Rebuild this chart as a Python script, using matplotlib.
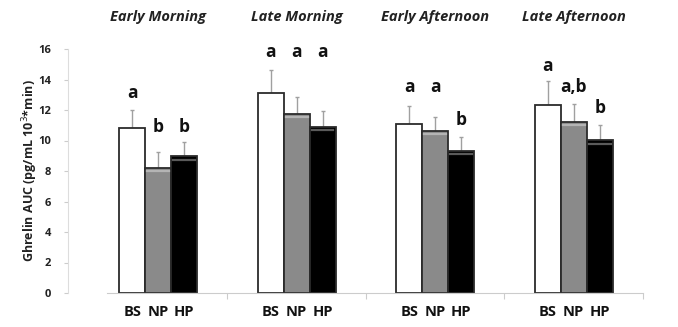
import numpy as np
import matplotlib.pyplot as plt

plt.rcParams['font.family'] = ['Open Sans', 'DejaVu Sans']

# Ghrelin AUC per time of day and diet
periods = ['Early Morning', 'Late Morning', 'Early Afternoon', 'Late Afternoon']
diets = ['BS', 'NP', 'HP']
bs_mean = [10.84, 13.10, 11.06, 12.33]
np_mean = [8.22, 11.74, 10.62, 11.23]
hp_mean = [8.96, 10.90, 9.31, 10.01]
bs_err = [1.18, 1.52, 1.20, 1.55]
np_err = [1.05, 1.11, 0.94, 1.14]
hp_err = [0.92, 1.05, 0.90, 0.99]

# significance letters and their baseline heights
bs_letters = ['a', 'a', 'a', 'a']
np_letters = ['b', 'a', 'a', 'a,b']
hp_letters = ['b', 'a', 'b', 'b']
bs_letter_y = [12.77, 15.45, 13.16, 14.58]
np_letter_y = [10.58, 15.45, 13.16, 13.16]
hp_letter_y = [10.58, 15.45, 11.02, 11.78]

means = [bs_mean, np_mean, hp_mean]
errs = [bs_err, np_err, hp_err]
letters = [bs_letters, np_letters, hp_letters]
letter_y = [bs_letter_y, np_letter_y, hp_letter_y]
fills = ['white', '#8a8a8a', 'black']
stripes = [None, '#b4b4b4', '#5a5a5a']

fig = plt.figure(figsize=(6.78, 3.27), dpi=100)
ax = fig.add_axes([68 / 678, 34 / 327, 577 / 678, 244 / 327])

x = np.arange(len(periods))
w = 0.187
for i in range(3):
    pos = x + (i - 1) * w
    ax.bar(pos, means[i], width=w, color=fills[i], edgecolor='#2b2b2b',
           linewidth=1.3, zorder=2)
    ax.errorbar(pos, means[i], yerr=[np.zeros(len(x)), errs[i]], fmt='none',
                ecolor='#a0a0a0', elinewidth=1, capsize=1.5, capthick=1, zorder=1)
    if stripes[i]:
        for p, m in zip(pos, means[i]):
            ax.plot([p - w * 0.42, p + w * 0.42], [m - 0.22, m - 0.22],
                    color=stripes[i], lw=1.6, zorder=3)
    for p, lab, ly in zip(pos, letters[i], letter_y[i]):
        ax.text(p, ly, lab, ha='center', va='baseline', fontsize=12.5,
                fontweight='bold', color='#111111')

for xi, name in zip(x, periods):
    ax.text(xi, 1.0 + 32 / 244, name, transform=ax.get_xaxis_transform(),
            ha='center', va='center', fontsize=10.5, fontweight='bold',
            fontstyle='italic', color='#222222')

ax.set_ylim(0, 16)
ax.set_xlim(-0.5 - 21 / 139, 3.5 + 2 / 139)
ax.set_yticks(np.arange(0, 17, 2))
ax.tick_params(axis='y', length=3, width=0.8, color='#cccccc', pad=9,
               labelsize=8, labelcolor='#222222')
for t in ax.get_yticklabels():
    t.set_fontweight('bold')

ax.set_xticks([0.5, 1.5, 2.5, 3.5])
ax.set_xticklabels([])
ax.tick_params(axis='x', which='major', length=4, width=0.8, color='#cccccc')
ax.set_xticks(np.concatenate([x - w, x, x + w]), minor=True)
ax.set_xticklabels(diets[0:1] * 4 + diets[1:2] * 4 + diets[2:3] * 4, minor=True)
ax.tick_params(axis='x', which='minor', length=0, pad=9, labelsize=10.5,
               labelcolor='#111111')
for t in ax.get_xticklabels(minor=True):
    t.set_fontweight('bold')

for s in ['top', 'right']:
    ax.spines[s].set_visible(False)
ax.spines['left'].set_color('#dddddd')
ax.spines['left'].set_linewidth(0.8)
ax.spines['bottom'].set_color('#cccccc')
ax.spines['bottom'].set_linewidth(0.8)
ax.spines['bottom'].set_bounds(-0.5 + 18 / 139, 3.5)

ax.set_ylabel('Ghrelin AUC (pg/mL 10$^{3}$*min)', fontsize=9,
              fontweight='bold', color='#222222', va='center')
ax.yaxis.set_label_coords(-38 / 577, 0.5)

fig.savefig('out.png', dpi=100)
